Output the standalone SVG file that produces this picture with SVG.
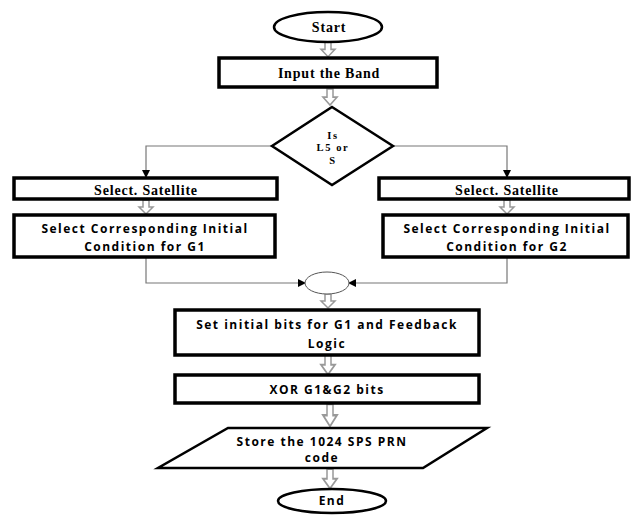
<svg xmlns="http://www.w3.org/2000/svg" width="632" height="516" viewBox="0 0 632 516">
<defs>
<marker id="ah" markerWidth="8" markerHeight="8" refX="7" refY="4" orient="auto" markerUnits="userSpaceOnUse">
<path d="M0,0 L8,4 L0,8 Z" fill="#000"/>
</marker>
<path id="barrow" d="M-3,0 H3 V7 H7 L0,14 L-7,7 H-3 Z"/>
</defs>
<style>
.box{fill:#fff;stroke:#000;stroke-width:3.5}
.thin{fill:#fff;stroke:#000;stroke-width:2.5}
.ser{font-family:"Liberation Serif","DejaVu Serif",serif;font-weight:bold;font-size:14px;letter-spacing:0.8px;text-anchor:middle;fill:#000}
.dia{font-family:"Liberation Serif","DejaVu Serif",serif;font-weight:bold;font-size:10.5px;letter-spacing:1.6px;text-anchor:middle;fill:#000}
.san{font-family:"Open Sans","Liberation Sans",sans-serif;font-weight:bold;font-size:12px;letter-spacing:1.5px;text-anchor:middle;fill:#000}
.con{fill:none;stroke:#777;stroke-width:1.2}
.ba{fill:#fff;stroke:#999;stroke-width:1.5}
</style>
<rect width="632" height="516" fill="#fff"/>
<g id="connectors">
<path class="con" d="M272,146 H146 V177" marker-end="url(#ah)"/>
<path class="con" d="M392,146 H507 V177" marker-end="url(#ah)"/>
<path class="con" d="M146,257 V283 H305" marker-end="url(#ah)"/>
<path class="con" d="M507,257 V283 H349" marker-end="url(#ah)"/>
<use href="#barrow" class="ba" transform="translate(328,42) scale(1,1.05)"/>
<use href="#barrow" class="ba" transform="translate(330,89) scale(1,1.15)"/>
<use href="#barrow" class="ba" transform="translate(146,200)"/>
<use href="#barrow" class="ba" transform="translate(507,200)"/>
<use href="#barrow" class="ba" transform="translate(328,294)"/>
<use href="#barrow" class="ba" transform="translate(328,355) scale(1,1.4)"/>
<use href="#barrow" class="ba" transform="translate(330,404) scale(1,1.6)"/>
<use href="#barrow" class="ba" transform="translate(330,469) scale(1,1.4)"/>
</g>
<g id="start">
<ellipse class="thin" cx="328" cy="27" rx="54" ry="15"/>
<text class="ser" x="329" y="32" font-size="15">Start</text>
</g>
<g id="input">
<rect class="box" x="219" y="58" width="218" height="29"/>
<text class="ser" x="329" y="78" font-size="16" letter-spacing="1">Input the Band</text>
</g>
<g id="decision">
<polygon class="thin" points="332,107 393,146 332,185 272,146"/>
<text class="dia" x="333" y="138.5">Is</text>
<text class="dia" x="333" y="151">L5 or</text>
<text class="dia" x="333" y="163.5">S</text>
</g>
<g id="sel1">
<rect class="box" x="14" y="178" width="263" height="21"/>
<text class="ser" x="146" y="195">Select. Satellite</text>
</g>
<g id="cond1">
<rect class="box" x="14" y="215" width="261" height="42"/>
<text class="san" x="145" y="233">Select Corresponding Initial</text>
<text class="san" x="145" y="251">Condition for G1</text>
</g>
<g id="sel2">
<rect class="box" x="379" y="178" width="250" height="21"/>
<text class="ser" x="507" y="195">Select. Satellite</text>
</g>
<g id="cond2">
<rect class="box" x="383" y="215" width="245" height="42"/>
<text class="san" x="507" y="233">Select Corresponding Initial</text>
<text class="san" x="507" y="251">Condition for G2</text>
</g>
<g id="join">
<ellipse fill="#fff" stroke="#555" stroke-width="1" cx="327" cy="283" rx="22" ry="11"/>
</g>
<g id="setbits">
<rect class="box" x="175" y="310" width="304" height="45"/>
<text class="san" x="327" y="329">Set initial bits for G1 and Feedback</text>
<text class="san" x="327" y="348">Logic</text>
</g>
<g id="xor">
<rect class="box" x="175" y="375" width="304" height="28"/>
<text class="san" x="327" y="394">XOR G1&amp;G2 bits</text>
</g>
<g id="store">
<polygon class="thin" points="228,428 487,428 423,468 158,468"/>
<text class="san" x="322" y="446">Store the 1024 SPS PRN</text>
<text class="san" x="322" y="462">code</text>
</g>
<g id="end">
<ellipse class="thin" cx="332" cy="501" rx="54" ry="12"/>
<text class="san" x="332" y="505">End</text>
</g>
</svg>
